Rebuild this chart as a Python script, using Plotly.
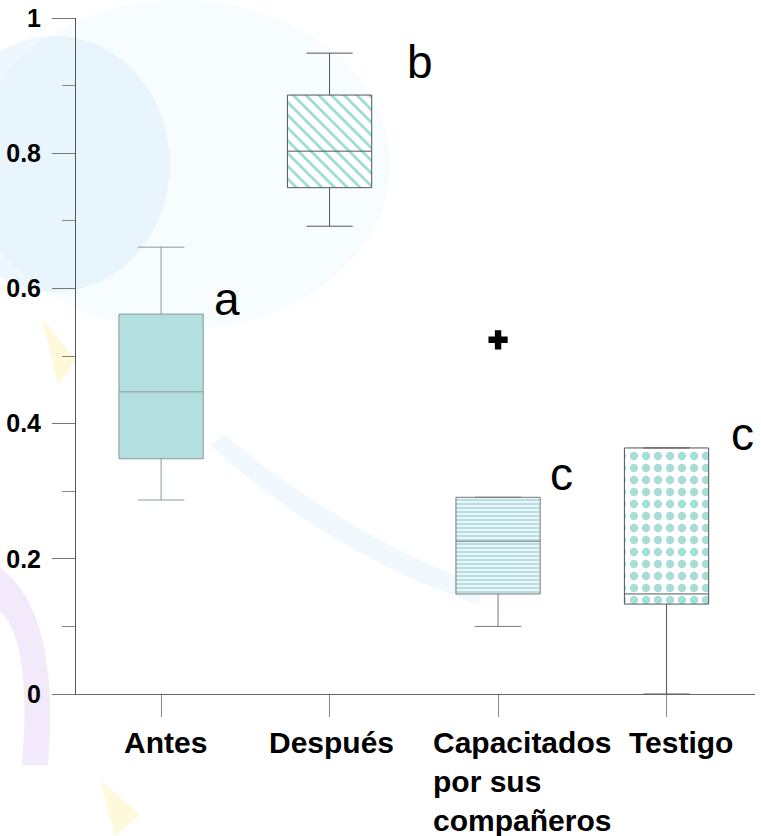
import plotly.graph_objects as go

# ---------------- data ----------------
categories = ["Antes", "Después", "Capacitados", "Testigo"]
label_text = ["Antes", "Después", "Capacitados<br>por sus<br>compañeros", "Testigo"]
q1 = [0.348, 0.749, 0.148, 0.133]
median = [0.447, 0.803, 0.226, 0.148]
q3 = [0.562, 0.886, 0.291, 0.364]
lower_fence = [0.287, 0.692, 0.100, 0.0]
upper_fence = [0.661, 0.948, 0.291, 0.364]
outlier_cat = ["Capacitados"]
outlier_val = [0.524]
letters = ["a", "b", "c", "c"]
y_tickvals = [0, 0.2, 0.4, 0.6, 0.8, 1]
y_ticktext = ["0", "0.2", "0.4", "0.6", "0.8", "1"]

# ---------------- styles ----------------
FONT = "Liberation Sans, Arial, sans-serif"
fills = [
    dict(color="#b3dfdf", pattern=dict(shape="")),
    dict(color="#ffffff", pattern=dict(shape="\\", fgcolor="#9adbd0", bgcolor="#ffffff",
                                       size=9, solidity=0.3, fillmode="replace")),
    dict(color="#e6f3f5", pattern=dict(shape="-", fgcolor="#acd8e0", bgcolor="#eaf5f7",
                                       size=4, solidity=0.4, fillmode="replace")),
    dict(color="#ffffff", pattern=dict(shape=".", fgcolor="#a8ded8", bgcolor="#ffffff",
                                       size=12, solidity=0.38, fillmode="replace")),
]
box_line_colors = ["#8a9a9a", "#555555", "#7a7a7a", "#555555"]
letter_dx = [66, 90, 63, 76]
letter_dy = [15, 33, 23, 14]
label_dx = [4, 2, 24, 14]

fig = go.Figure()

# patterned box bodies (drawn from q1/q3)
for i, c in enumerate(categories):
    fig.add_trace(go.Bar(
        x=[c], y=[q3[i] - q1[i]], base=[q1[i]], width=0.5,
        marker=dict(color=fills[i]["color"], pattern=fills[i]["pattern"],
                    line=dict(width=0)),
        showlegend=False, hoverinfo="skip",
    ))

# box outlines, medians, whiskers
for i, c in enumerate(categories):
    fig.add_trace(go.Box(
        x=[c], q1=[q1[i]], median=[median[i]], q3=[q3[i]],
        lowerfence=[lower_fence[i]], upperfence=[upper_fence[i]],
        width=0.5, whiskerwidth=0.55, boxpoints=False,
        fillcolor="rgba(0,0,0,0)",
        line=dict(color=box_line_colors[i], width=1),
        showlegend=False,
    ))

# outlier
fig.add_trace(go.Scatter(
    x=outlier_cat, y=outlier_val, mode="markers",
    marker=dict(symbol="cross", size=16, color="black", line=dict(width=0)),
    showlegend=False,
))

# significance letters
for i, c in enumerate(categories):
    fig.add_annotation(x=c, y=q3[i], xref="x", yref="y", text=letters[i],
                       showarrow=False, xshift=letter_dx[i], yshift=letter_dy[i],
                       xanchor="center", yanchor="middle",
                       font=dict(family=FONT, size=46, color="black"))

# category labels
for i, c in enumerate(categories):
    fig.add_annotation(x=c, y=0, xref="x", yref="y", text=label_text[i],
                       showarrow=False, xshift=label_dx[i], yshift=-30,
                       xanchor="center", yanchor="top", align="left",
                       font=dict(family=FONT, size=30, color="black", weight="bold"))

# faint background watermark (positions given in screen pixels of the plot area)
def px(xp):
    return (xp - 76) / 679
def py(yp):
    return (694 - yp) / 676

shapes = [
    dict(type="circle", xref="paper", yref="paper", layer="below",
         x0=px(-30), x1=px(390), y0=py(330), y1=py(0),
         fillcolor="rgba(225,242,252,0.25)", line=dict(width=0)),
    dict(type="circle", xref="paper", yref="paper", layer="below",
         x0=px(-60), x1=px(170), y0=py(292), y1=py(36),
         fillcolor="rgba(215,237,251,0.45)", line=dict(width=0)),
    dict(type="path", xref="paper", yref="paper", layer="below",
         path=f"M {px(210)} {py(445)} Q {px(330)} {py(555)} {px(480)} {py(605)} "
              f"L {px(480)} {py(585)} Q {px(345)} {py(535)} {px(225)} {py(435)} Z",
         fillcolor="rgba(215,237,251,0.35)", line=dict(width=0)),
    dict(type="path", xref="paper", yref="paper", layer="below",
         path=f"M {px(0)} {py(568)} Q {px(60)} {py(610)} {px(48)} {py(765)} "
              f"L {px(22)} {py(765)} Q {px(32)} {py(640)} {px(0)} {py(612)} Z",
         fillcolor="rgba(230,212,246,0.5)", line=dict(width=0)),
    dict(type="path", xref="paper", yref="paper", layer="below",
         path=f"M {px(42)} {py(318)} L {px(76)} {py(360)} L {px(58)} {py(385)} Z",
         fillcolor="rgba(255,243,185,0.5)", line=dict(width=0)),
    dict(type="path", xref="paper", yref="paper", layer="below",
         path=f"M {px(100)} {py(780)} L {px(140)} {py(815)} L {px(115)} {py(836)} Z",
         fillcolor="rgba(255,243,185,0.5)", line=dict(width=0)),
]

fig.update_layout(
    width=761, height=836,
    margin=dict(l=76, r=6, t=18, b=142, autoexpand=False),
    paper_bgcolor="white", plot_bgcolor="rgba(0,0,0,0)",
    barmode="overlay",
    showlegend=False,
    shapes=shapes,
    xaxis=dict(
        categoryorder="array", categoryarray=categories,
        range=[-0.505, 3.525], automargin=False,
        showline=True, linecolor="#666666", linewidth=1,
        ticks="outside", ticklen=22, tickcolor="#888888", tickwidth=1,
        showticklabels=False, showgrid=False, zeroline=False,
    ),
    yaxis=dict(
        range=[0, 1], tickvals=y_tickvals, ticktext=y_ticktext,
        automargin=False,
        showline=True, linecolor="#555555", linewidth=1,
        ticks="outside", ticklen=23, tickcolor="#777777", tickwidth=1,
        minor=dict(dtick=0.1, tick0=0, ticks="outside", ticklen=13,
                   tickcolor="#888888", tickwidth=1),
        ticklabelstandoff=6, ticklabeloverflow="allow",
        tickfont=dict(family=FONT, size=25, color="black", weight="bold"),
        showgrid=False, zeroline=False,
    ),
)

# remove the page's default 8px body margin so the figure fills the window
fig.write_html(
    "out.html",
    config={"displayModeBar": False},
    post_script="document.body.style.margin='0';document.body.style.overflow='hidden';",
)
